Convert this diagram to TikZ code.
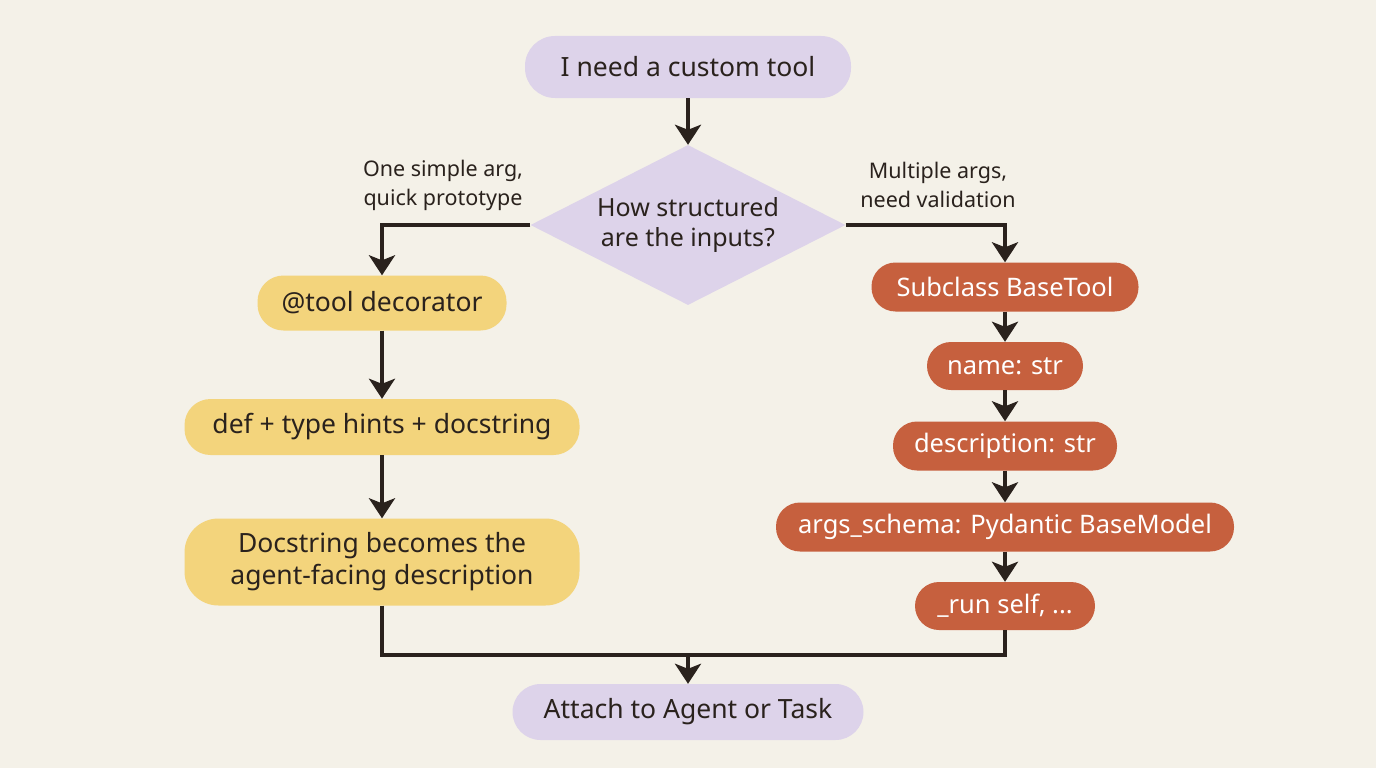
\documentclass[tikz,border=0pt]{standalone}
\usepackage{fontspec}
\setmainfont{Noto Sans}
\usetikzlibrary{shapes.geometric,arrows.meta}
\definecolor{bg}{HTML}{F4F1E8}
\definecolor{lav}{HTML}{DDD3EA}
\definecolor{yel}{HTML}{F3D47C}
\definecolor{ora}{HTML}{C6603E}
\definecolor{ink}{HTML}{2A221D}
\begin{document}
\begin{tikzpicture}[x=1pt,y=-1pt,
  pill/.style={rectangle, rounded corners=26pt, align=center, inner sep=0pt, font=\fontsize{26.5}{32}\selectfont, text=ink},
  lavpill/.style={pill, fill=lav},
  yelpill/.style={pill, fill=yel},
  orapill/.style={pill, fill=ora, text=white, rounded corners=24pt, font=\fontsize{25.5}{30}\selectfont},
  lbl/.style={align=center, font=\fontsize{21.5}{29}\selectfont, text=ink, inner sep=0pt},
  lin/.style={draw=ink, line width=4pt},
  arr/.style={lin, -{Stealth[width=26pt,length=20pt,inset=5pt]}}]
\useasboundingbox[fill=bg] (0,0) rectangle (1376,768);
% nodes
\node[lavpill, minimum width=326pt, minimum height=62pt, rounded corners=30pt] (start) at (688,67) {I need a custom tool};
\node[diamond, fill=lav, minimum width=315pt, minimum height=160pt, inner sep=0pt] (dia) at (688,225) {};
\node[align=center, text=ink, inner sep=0pt, font=\fontsize{25}{30}\selectfont] (diatxt) at (dia.center) {How structured\\are the inputs?};
\node[yelpill, minimum width=249pt, minimum height=55pt] (tool) at (382,303) {@tool decorator};
\node[yelpill, minimum width=395pt, minimum height=56pt] (def) at (382,427) {def + type hints + docstring};
\node[yelpill, minimum width=395pt, minimum height=87pt, rounded corners=34pt] (doc) at (382,562) {Docstring becomes the\\agent-facing description};
\node[orapill, minimum width=267pt, minimum height=49pt] (sub) at (1005,287) {Subclass BaseTool};
\node[orapill, minimum width=156pt, minimum height=48pt] (nm) at (1005,366) {name: str};
\node[orapill, minimum width=224pt, minimum height=49pt] (desc) at (1005,446) {description: str};
\node[orapill, minimum width=458pt, minimum height=49pt] (args) at (1005,527) {args\_schema: Pydantic BaseModel};
\node[orapill, minimum width=180pt, minimum height=48pt] (run) at (1005,606) {\_run self, ...};
\node[lavpill, minimum width=351pt, minimum height=56pt, rounded corners=28pt] (att) at (688,712) {Attach to Agent or Task};
% labels
\node[lbl] (l1) at (443,185) {One simple arg,\\quick prototype};
\node[lbl] (l2) at (938,185) {Multiple args,\\need validation};
% connectors
\coordinate (m) at (688,655);
\draw[arr] (start) -- (dia);
\draw[arr] (dia.west) -| (tool.north);
\draw[arr] (dia.east) -| (sub.north);
\draw[arr] (tool) -- (def);
\draw[arr] (def) -- (doc);
\draw[arr] (sub) -- (nm);
\draw[arr] (nm) -- (desc);
\draw[arr] (desc) -- (args);
\draw[arr] (args) -- (run);
\draw[lin] (doc.south) |- (m) -| (run.south);
\draw[arr] (m) -- (att);
\end{tikzpicture}
\end{document}
